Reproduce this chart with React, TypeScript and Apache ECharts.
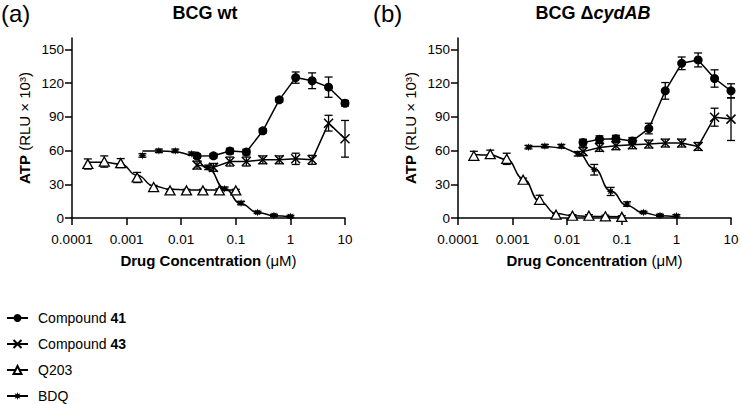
import React, { useEffect, useRef } from "react";
import * as echarts from "echarts";

// ---------- data ----------
const concCmp = [0.0195, 0.039, 0.078, 0.156, 0.3125, 0.625, 1.25, 2.5, 5, 10];
const concQ203 = [0.000195, 0.00039, 0.00078, 0.00156, 0.003125, 0.00625, 0.0125, 0.025, 0.05, 0.1];
const concBDQ = [0.00195, 0.0039, 0.0078, 0.0156, 0.03125, 0.0625, 0.125, 0.25, 0.5, 1];

// BCG wt
const cmp41Wt = [55, 55.3, 59.5, 58.6, 77.5, 105, 124.8, 122, 116.3, 102];
const cmp41WtErr = [2, 2, 2.5, 2.5, 2, 2, 5, 7, 9, 2.5];
const cmp43Wt = [47, 45, 50.2, 50.2, 51.7, 51.7, 52.6, 51.7, 84.3, 70.4];
const cmp43WtErr = [3.5, 3.5, 4, 4, 3.5, 3.5, 5, 4, 7, 16.3];
const q203Wt = [48, 50.2, 48.8, 36, 27.5, 24.5, 24.5, 24.5, 24.5, 24.5];
const q203WtErr = [4.5, 5, 4, 4.5, 1.5, 1, 1, 1, 1.5, 1];
const q203WtFit = [49.5, 49.5, 48, 38, 28.5, 25.5, 25, 25, 25, 25];
const bdqWt = [55.6, 59.7, 59.7, 57.1, 45, 26, 13.3, 5, 2.3, 1.4];
const bdqWtErr = [1.5, 1.5, 1.5, 1.5, 2, 1.5, 1.5, 1, 1, 1];
const bdqWtFit = [59.5, 59.5, 59, 56, 44, 26, 12.5, 5, 2, 1];

// BCG ΔcydAB
const cmp41Cyd = [67, 70, 70.5, 68.5, 79.5, 113, 137.5, 140.5, 124, 113];
const cmp41CydErr = [3, 3, 3, 3, 4.7, 7.4, 5.6, 6.2, 7.7, 6.3];
const cmp43Cyd = [59, 62.7, 64.2, 65.1, 65.7, 66.6, 66.6, 63.6, 89.6, 87.9];
const cmp43CydErr = [3.5, 3.5, 3.5, 3.5, 3.5, 3.5, 3.5, 3.5, 8, 19];
const q203Cyd = [55.3, 56.8, 52.6, 34, 16.2, 2.9, 2, 2, 1.5, 1];
const q203CydErr = [4, 3.5, 5, 1.5, 4, 1, 1, 1, 1, 1];
const q203CydFit = [56.5, 56, 52, 35, 15, 4, 2, 1.5, 1.3, 1.2];
const bdqCyd = [63, 63.9, 63.9, 57.1, 42.9, 23.6, 12.4, 5, 2.3, 2];
const bdqCydErr = [1.5, 1.5, 1.5, 2, 4.7, 3.6, 2, 1, 1, 1];
const bdqCydFit = [63.5, 63.5, 62.5, 58, 44, 24, 11, 4.5, 2, 1.2];

const yTicks = [0, 30, 60, 90, 120, 150];
const xTickLabels = ["0.0001", "0.001", "0.01", "0.1", "1", "10"];
const legendNames = ["Compound 41", "Compound 43", "Q203", "BDQ"];

// ---------- styles ----------
const FONT = '"Liberation Sans", Arial, Helvetica, sans-serif';
const BLACK = "#000";

function buildStar(n: number, ro: number, ri: number): string {
  let d = "";
  for (let i = 0; i < 2 * n; i++) {
    const a = (Math.PI * i) / n - Math.PI / 2;
    const r = i % 2 === 0 ? ro : ri;
    const x = (10 + r * Math.cos(a)).toFixed(2);
    const y = (10 + r * Math.sin(a)).toFixed(2);
    d += (i === 0 ? "M" : "L") + x + "," + y;
  }
  return "path://" + d + "Z";
}
const STAR = buildStar(8, 10, 5);
const XMARK = "path://M0,0L10,10M10,0L0,10";

const sym = {
  c41: { symbol: "circle", symbolSize: 9, itemStyle: { color: BLACK, opacity: 1 } },
  c43: {
    symbol: XMARK,
    symbolSize: 9,
    itemStyle: { color: "rgba(0,0,0,0)", borderColor: BLACK, borderWidth: 1.5, opacity: 1 },
  },
  q203: {
    symbol: "triangle",
    symbolSize: [10, 9],
    itemStyle: { color: "#fff", borderColor: BLACK, borderWidth: 1.3, opacity: 1 },
  },
  bdq: { symbol: STAR, symbolSize: 8, itemStyle: { color: BLACK, opacity: 1 } },
};

const zip = (xs: number[], ys: number[]) => xs.map((x, i) => [x, ys[i]]);
const zipErr = (xs: number[], ys: number[], es: number[]) =>
  xs.map((x, i) => [x, ys[i] - es[i], ys[i] + es[i]]);

const lineStyle = { color: BLACK, width: 1.5 };

function connected(name: string, gi: number, xs: number[], ys: number[], s: any) {
  return {
    name,
    type: "line",
    xAxisIndex: gi,
    yAxisIndex: gi,
    data: zip(xs, ys),
    showAllSymbol: true,
    ...s,
    lineStyle,
    z: 3,
  };
}
function fit(name: string, gi: number, xs: number[], ys: number[], s: any) {
  return {
    name,
    type: "line",
    xAxisIndex: gi,
    yAxisIndex: gi,
    data: zip(xs, ys),
    smooth: 0.5,
    smoothMonotone: "x",
    showSymbol: false,
    ...s,
    lineStyle,
    z: 3,
  };
}
function points(name: string, gi: number, xs: number[], ys: number[], s: any) {
  return {
    name,
    type: "scatter",
    xAxisIndex: gi,
    yAxisIndex: gi,
    data: zip(xs, ys),
    ...s,
    z: 4,
  };
}
function errBars(gi: number, xs: number[], ys: number[], es: number[]) {
  return {
    name: "err",
    type: "custom",
    xAxisIndex: gi,
    yAxisIndex: gi,
    data: zipErr(xs, ys, es),
    encode: { x: 0, y: [1, 2] },
    z: 1,
    renderItem: (_params: any, api: any) => {
      const x = api.value(0);
      const lo = api.coord([x, api.value(1)]);
      const hi = api.coord([x, api.value(2)]);
      const w = 4;
      const st = { stroke: BLACK, lineWidth: 1.3 };
      return {
        type: "group",
        children: [
          { type: "line", shape: { x1: lo[0], y1: lo[1], x2: hi[0], y2: hi[1] }, style: st },
          { type: "line", shape: { x1: hi[0] - w, y1: hi[1], x2: hi[0] + w, y2: hi[1] }, style: st },
          { type: "line", shape: { x1: lo[0] - w, y1: lo[1], x2: lo[0] + w, y2: lo[1] }, style: st },
        ],
      };
    },
  };
}

const nameStyle = {
  color: BLACK,
  fontSize: 15,
  fontFamily: FONT,
  rich: {
    b: { fontWeight: "bold", fontSize: 15, fontFamily: FONT, color: BLACK },
    r: { fontSize: 15, fontFamily: FONT, color: BLACK },
  },
};

function xAxis(gi: number) {
  return {
    gridIndex: gi,
    type: "log",
    logBase: 10,
    min: 0.0001,
    max: 10,
    axisLine: { show: true, lineStyle: { color: BLACK, width: 1.5 } },
    axisTick: { show: true, length: 7, lineStyle: { color: BLACK, width: 1.5 } },
    minorTick: { show: false },
    splitLine: { show: false },
    axisLabel: {
      color: BLACK,
      fontSize: 13.5,
      fontFamily: FONT,
      margin: 14,
      formatter: (v: number) => xTickLabels[Math.round(Math.log10(v)) + 4] ?? "",
    },
    name: "{b|Drug Concentration}{r| (μM)}",
    nameLocation: "middle",
    nameGap: 35,
    nameTextStyle: nameStyle,
  };
}
function yAxis(gi: number) {
  return {
    gridIndex: gi,
    type: "value",
    min: 0,
    max: 160,
    interval: 30,
    axisLine: { show: true, lineStyle: { color: BLACK, width: 1.5 } },
    axisTick: { show: true, length: 7, customValues: yTicks, lineStyle: { color: BLACK, width: 1.5 } },
    splitLine: { show: false },
    axisLabel: { color: BLACK, fontSize: 13.5, fontFamily: FONT, margin: 8, customValues: yTicks },
    name: "{b|ATP}{r| (RLU × 10³)}",
    nameLocation: "middle",
    nameGap: 40,
    nameRotate: 90,
    nameTextStyle: nameStyle,
  };
}

export default function App() {
  const ref = useRef<HTMLDivElement>(null);
  useEffect(() => {
    if (!ref.current) return;
    const chart = echarts.init(ref.current, undefined, { renderer: "svg" });
    const option: any = {
      animation: false,
      backgroundColor: "#fff",
      grid: [
        { left: 72, top: 38, width: 273, height: 180 },
        { left: 458, top: 38, width: 273, height: 180 },
      ],
      xAxis: [xAxis(0), xAxis(1)],
      yAxis: [yAxis(0), yAxis(1)],
      legend: {
        data: legendNames,
        orient: "vertical",
        left: 6,
        top: 311,
        padding: 0,
        itemWidth: 21,
        itemHeight: 10,
        itemGap: 12,
        selectedMode: false,
        textStyle: {
          color: BLACK,
          fontSize: 14,
          fontFamily: FONT,
          rich: {
            r: { fontSize: 14, fontFamily: FONT, color: BLACK, padding: [0, 0, 0, 5] },
            b: { fontSize: 14, fontFamily: FONT, color: BLACK, fontWeight: "bold" },
          },
        },
        formatter: (name: string) => {
          const m = name.match(/^(Compound )(\d+)$/);
          return m ? `{r|${m[1]}}{b|${m[2]}}` : `{r|${name}}`;
        },
      },
      graphic: [
        {
          type: "text",
          x: 1,
          y: 13,
          style: { text: "(a)", fontSize: 24, fontFamily: FONT, fill: BLACK, align: "left", verticalAlign: "middle" },
        },
        {
          type: "text",
          x: 373,
          y: 13,
          style: { text: "(b)", fontSize: 24, fontFamily: FONT, fill: BLACK, align: "left", verticalAlign: "middle" },
        },
        {
          type: "text",
          x: 205,
          y: 13,
          style: {
            text: "BCG wt",
            fontSize: 18,
            fontWeight: "bold",
            fontFamily: FONT,
            fill: BLACK,
            align: "center",
            verticalAlign: "middle",
          },
        },
        {
          type: "text",
          x: 593,
          y: 13,
          style: {
            text: "{b|BCG Δ}{bi|cydAB}",
            align: "center",
            verticalAlign: "middle",
            rich: {
              b: { fontSize: 18, fontWeight: "bold", fontFamily: FONT, fill: BLACK, color: BLACK },
              bi: { fontSize: 18, fontWeight: "bold", fontStyle: "italic", fontFamily: FONT, fill: BLACK, color: BLACK },
            },
          },
        },
      ],
      series: [
        connected("Compound 41", 0, concCmp, cmp41Wt, sym.c41),
        connected("Compound 43", 0, concCmp, cmp43Wt, sym.c43),
        fit("Q203", 0, concQ203, q203WtFit, sym.q203),
        fit("BDQ", 0, concBDQ, bdqWtFit, sym.bdq),
        connected("Compound 41", 1, concCmp, cmp41Cyd, sym.c41),
        connected("Compound 43", 1, concCmp, cmp43Cyd, sym.c43),
        fit("Q203", 1, concQ203, q203CydFit, sym.q203),
        fit("BDQ", 1, concBDQ, bdqCydFit, sym.bdq),
        points("Q203", 0, concQ203, q203Wt, sym.q203),
        points("BDQ", 0, concBDQ, bdqWt, sym.bdq),
        points("Q203", 1, concQ203, q203Cyd, sym.q203),
        points("BDQ", 1, concBDQ, bdqCyd, sym.bdq),
        errBars(0, concCmp, cmp41Wt, cmp41WtErr),
        errBars(0, concCmp, cmp43Wt, cmp43WtErr),
        errBars(0, concQ203, q203Wt, q203WtErr),
        errBars(0, concBDQ, bdqWt, bdqWtErr),
        errBars(1, concCmp, cmp41Cyd, cmp41CydErr),
        errBars(1, concCmp, cmp43Cyd, cmp43CydErr),
        errBars(1, concQ203, q203Cyd, q203CydErr),
        errBars(1, concBDQ, bdqCyd, bdqCydErr),
      ],
    };
    chart.setOption(option);
    return () => chart.dispose();
  }, []);
  return (
    <div
      ref={ref}
      style={{ position: "fixed", left: 0, top: 0, width: 742, height: 404, background: "#fff" }}
    />
  );
}
